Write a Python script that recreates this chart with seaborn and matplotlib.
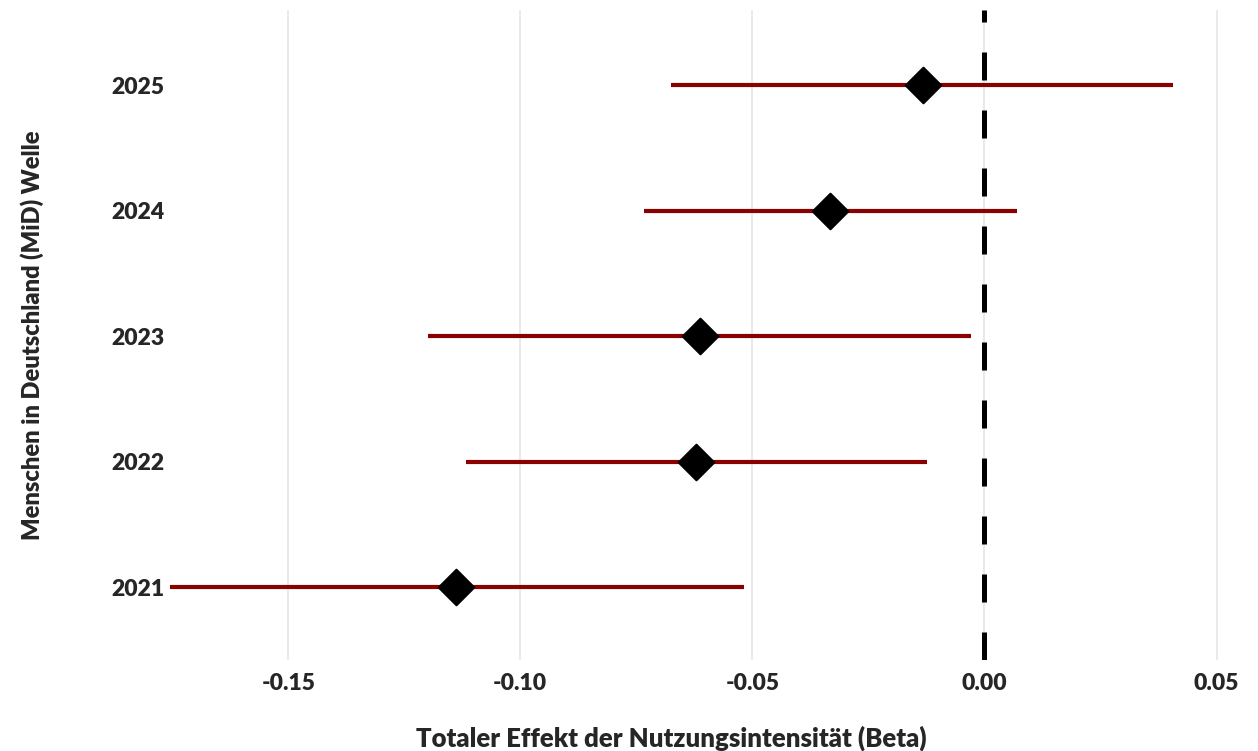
import numpy as np
import pandas as pd
import matplotlib
matplotlib.use("Agg")
import matplotlib.pyplot as plt
import seaborn as sns

# Effekt je MiD-Welle (Punktschaetzer + Konfidenzintervall)
years = ["2021", "2022", "2023", "2024", "2025"]
beta = [-0.1138, -0.0622, -0.0613, -0.0333, -0.0133]
ci_low = [-0.1755, -0.1116, -0.1198, -0.0733, -0.0675]
ci_high = [-0.0518, -0.0123, -0.0030, 0.0069, 0.0406]
xticks = [-0.15, -0.10, -0.05, 0.00, 0.05]

df = pd.DataFrame({"year": years, "beta": beta, "lo": ci_low, "hi": ci_high})
df["pos"] = np.arange(len(df))

sns.set_theme(style="white")
plt.rcParams["font.family"] = ["Lato", "DejaVu Sans"]

fig = plt.figure(figsize=(12.58, 7.51), dpi=100)
ax = fig.add_axes([0.135, 0.121, 0.845, 0.866])

for x in xticks:
    ax.axvline(x, color="#e6e6e6", lw=1.2, zorder=0)

ax.hlines(df["pos"], df["lo"], df["hi"], color="#8b0000", lw=3.0, zorder=2)
ax.axvline(0, color="black", lw=3.6, ls=(0, (5.6, 6)), zorder=3)
sns.scatterplot(data=df, x="beta", y="pos", marker="D", s=330, color="black",
                edgecolor="black", ax=ax, zorder=4, legend=False)

ax.set_xlim(-0.1755, 0.0535)
ax.set_ylim(-0.58, 4.6)
ax.set_xticks(xticks)
ax.set_xticklabels([f"{x:.2f}" for x in xticks], fontsize=16.5, fontweight="heavy")
ax.set_yticks(df["pos"])
ax.set_yticklabels(df["year"], fontsize=16.5, fontweight="heavy")
ax.tick_params(axis="y", length=0, pad=4)
ax.tick_params(axis="x", length=0, pad=9)
ax.set_xlabel("Totaler Effekt der Nutzungsintensität (Beta)", fontsize=18.5,
              fontweight="heavy", va="center")
ax.xaxis.set_label_coords(0.472, -0.12)
ax.set_ylabel("Menschen in Deutschland (MiD) Welle", fontsize=17,
              fontweight="heavy", labelpad=48)
for s in ax.spines.values():
    s.set_visible(False)

fig.savefig("out.png", dpi=100)
